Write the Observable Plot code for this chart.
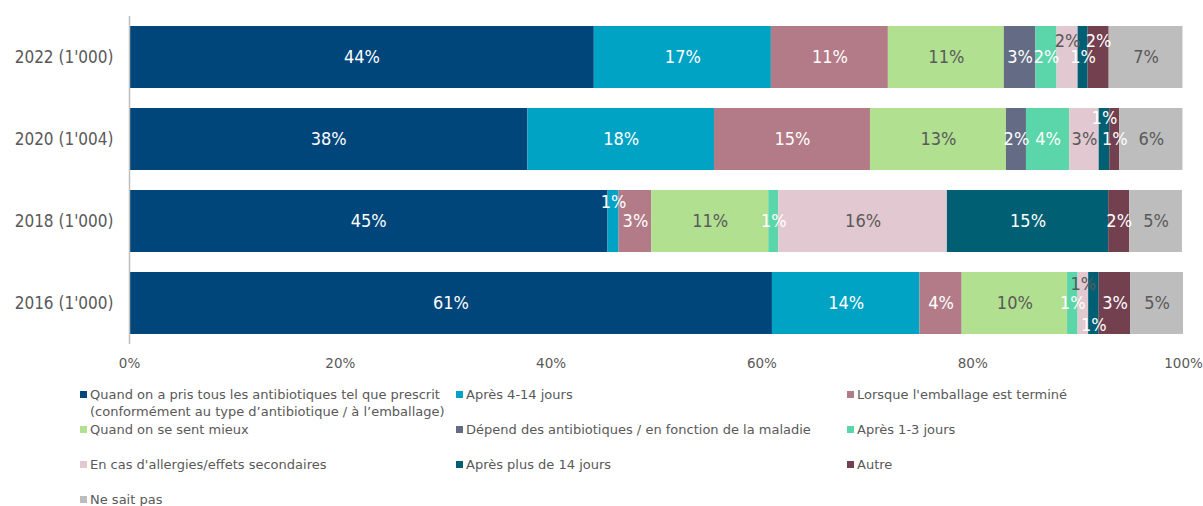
<!DOCTYPE html>
<html><head><meta charset="utf-8">
<script src="https://cdn.jsdelivr.net/npm/d3@7"></script>
<script src="https://cdn.jsdelivr.net/npm/@observablehq/plot@0.6"></script>
<style>
body{margin:0;background:#fff;}
#chart{position:relative;width:1203px;height:506px;overflow:hidden;background:#fff}
#chart svg{display:block}
.legend{position:relative;height:132px;margin-top:12px;font-family:"DejaVu Sans",sans-serif;font-size:13px;color:#595959}
.item{position:absolute;line-height:17px;white-space:pre-line}
.sw{position:absolute;width:7px;height:7px;left:-10px;top:5px}
</style></head><body><div id="chart"></div>
<script>
const years = ["2022 (1'000)", "2020 (1'004)", "2018 (1'000)", "2016 (1'000)"];
const categories = [
  "Quand on a pris tous les antibiotiques tel que prescrit\n(conformément au type d’antibiotique / à l’emballage)",
  "Après 4-14 jours",
  "Lorsque l'emballage est terminé",
  "Quand on se sent mieux",
  "Dépend des antibiotiques / en fonction de la maladie",
  "Après 1-3 jours",
  "En cas d'allergies/effets secondaires",
  "Après plus de 14 jours",
  "Autre",
  "Ne sait pas"
];
const v2022 = [44.1, 16.8, 11.1, 11.0, 3.0, 2.0, 2.0, 0.95, 2.0, 7.0];
const v2020 = [37.8, 17.7, 14.8, 12.9, 1.9, 4.1, 2.8, 1.0, 0.95, 6.0];
const v2018 = [45.4, 1.05, 3.1, 11.1, 0, 0.95, 16.0, 15.3, 2.0, 5.0];
const v2016 = [61.0, 14.0, 4.0, 10.0, 0, 1.0, 1.0, 1.0, 3.0, 5.0];
const xTicks = [0, 20, 40, 60, 80, 100];

// styles
const colors = ["#00467a", "#00a3c4", "#b37b88", "#b1e091", "#636c84", "#5ad6aa", "#e2c8d0", "#005f72", "#72404e", "#bdbdbd"];
const labelColors = ["#fff", "#fff", "#fff", "#595959", "#fff", "#fff", "#595959", "#fff", "#fff", "#595959"];
const labelNudge = {"0|6": -16, "0|8": -16, "1|7": -21, "2|1": -19, "3|6": -19, "3|7": 22};

const series = [v2022, v2020, v2018, v2016];
const rows = [];
const labels = [];
series.forEach((vals, yi) => {
  let acc = 0;
  vals.forEach((v, ci) => {
    rows.push({year: years[yi], cat: categories[ci], value: v});
    if (v > 0) {
      labels.push({year: years[yi], mid: acc + v / 2, text: Math.round(v) + "%",
        color: labelColors[ci], dy: labelNudge[yi + "|" + ci] || 0});
    }
    acc += v;
  });
});

const groups = d3.groups(labels, d => d.dy + "|" + d.color);
const textMarks = groups.map(([k, arr]) => Plot.text(arr, {
  x: "mid", y: "year", text: "text", fill: arr[0].color, dy: arr[0].dy,
  fontSize: 18, fontFamily: "DejaVu Sans Condensed, DejaVu Sans, sans-serif"
}));

const chart = Plot.plot({
  width: 1203, height: 374,
  marginLeft: 129, marginRight: 20, marginTop: 16, marginBottom: 30,
  style: {fontFamily: "DejaVu Sans, sans-serif", color: "#595959", background: "#fff"},
  x: {domain: [0, 100], label: null},
  y: {domain: years, paddingInner: 0.244, paddingOuter: 0.12, label: null},
  color: {domain: categories, range: colors},
  marks: [
    Plot.barX(rows, Plot.stackX({x: "value", y: "year", fill: "cat"})),
    Plot.ruleX([0], {stroke: "#bfbfbf", strokeWidth: 1.5}),
    Plot.axisX({ticks: xTicks, tickFormat: d => d + "%", tickSize: 0, tickPadding: 14, fontSize: 13.5, fill: "#595959", label: null}),
    Plot.axisY({tickSize: 0, tickPadding: 16, fontSize: 17, fontFamily: "DejaVu Sans Condensed, DejaVu Sans, sans-serif", fill: "#595959", label: null}),
    ...textMarks
  ]
});
const root = document.getElementById("chart");
root.appendChild(chart);

const legend = document.createElement("div");
legend.className = "legend";
const colX = [90, 466, 857];
categories.forEach((c, i) => {
  const it = document.createElement("div");
  it.className = "item";
  it.style.left = colX[i % 3] + "px";
  it.style.top = (Math.floor(i / 3) * 35) + "px";
  const sw = document.createElement("span");
  sw.className = "sw";
  sw.style.background = colors[i];
  it.appendChild(sw);
  it.appendChild(document.createTextNode(c));
  legend.appendChild(it);
});
root.appendChild(legend);
</script></body></html>
